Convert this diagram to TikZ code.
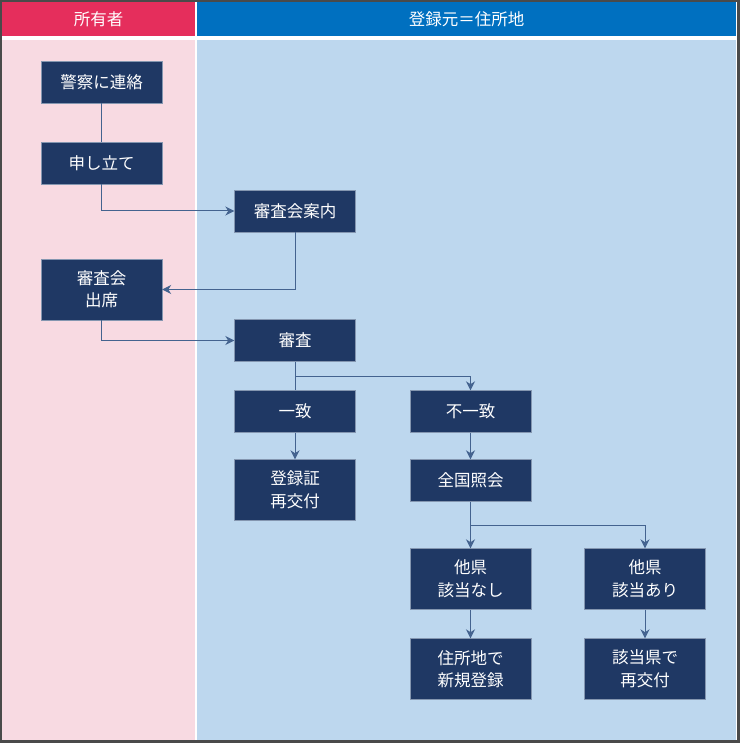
\documentclass[tikz,border=0pt]{standalone}
\usepackage{fontspec}
\setmainfont{Noto Sans CJK JP}
\usetikzlibrary{calc,arrows.meta}

\definecolor{frame}{HTML}{4A4A4A}
\definecolor{headpink}{HTML}{E52E5C}
\definecolor{headblue}{HTML}{0070C0}
\definecolor{bodypink}{HTML}{F8DAE2}
\definecolor{bodyblue}{HTML}{BDD7EE}
\definecolor{navy}{HTML}{1F3864}
\definecolor{navyedge}{HTML}{8496B0}
\definecolor{lineblue}{HTML}{44638F}

\begin{document}
\begin{tikzpicture}[x=1pt,y=-1pt]
    \tikzstyle{edge}  = [line width=1pt,draw=lineblue]
    \tikzstyle{dedge} = [line width=1pt,->,>={Stealth[length=9pt,width=9pt]},draw=lineblue]
    \tikzstyle{head}=[text=white,font=\fontsize{16.5}{18}\selectfont]
    \tikzstyle{box}=[
      rectangle,
      fill=navy,
      draw=navyedge,
      text=white,
      align=center,
      anchor=center,
      minimum width=121pt,
      minimum height=42pt,
      font=\fontsize{16.5}{22.5}\selectfont,
    ]
    \tikzstyle{tall}=[minimum height=61pt]

    % lanes
    \fill[frame] (0,0) rectangle (740,743);
    \fill[white] (2,2) rectangle (737,740);
    \fill[headpink] (2,2) rectangle (195,36);
    \fill[headblue] (197,2) rectangle (736,36);
    \fill[bodypink] (2,40) rectangle (195,740);
    \fill[bodyblue] (197,40) rectangle (736,740);

    \node[head] (hOwner) at (98.5,19) {所有者};
    \node[head] (hOffice) at (466.5,19) {登録元＝住所地};

    \node[box] (nPolice) at (101.5,82) {警察に連絡};
    \node[box] (nPetition) at (101.5,163) {申し立て};
    \node[box] (nGuide) at (295,211) {審査会案内};
    \node[box,tall] (nAttend) at (101.5,289.5) {審査会\\出席};
    \node[box] (nExam) at (295,340.5) {審査};
    \node[box] (nMatch) at (295,411.5) {一致};
    \node[box] (nMismatch) at (470.5,411.5) {不一致};
    \node[box,tall] (nReissue) at (295,490) {登録証\\再交付};
    \node[box] (nInquiry) at (470.5,480.5) {全国照会};
    \node[box,tall] (nNone) at (470.5,579) {他県\\該当なし};
    \node[box,tall] (nFound) at (645,579) {他県\\該当あり};
    \node[box,tall] (nNewReg) at (470.5,669) {住所地で\\新規登録};
    \node[box,tall] (nPrefReissue) at (645,669) {該当県で\\再交付};

    \draw[edge] (nPolice)--(nPetition);
    \draw[dedge] (nPetition.south)|-(nGuide.west);
    \draw[dedge] (nGuide.south)|-(nAttend.east);
    \draw[dedge] (nAttend.south)|-(nExam.west);
    \draw[edge] (nExam)--(nMatch);
    \draw[dedge] ($(nExam.south)!0.5!(nMatch.north)$)-|(nMismatch.north);
    \draw[dedge] (nMatch)--(nReissue);
    \draw[dedge] (nMismatch)--(nInquiry);
    \draw[dedge] (nInquiry)--(nNone);
    \draw[dedge] ($(nInquiry.south)!0.5!(nNone.north)$)-|(nFound.north);
    \draw[dedge] (nNone)--(nNewReg);
    \draw[dedge] (nFound)--(nPrefReissue);
\end{tikzpicture}
\end{document}
